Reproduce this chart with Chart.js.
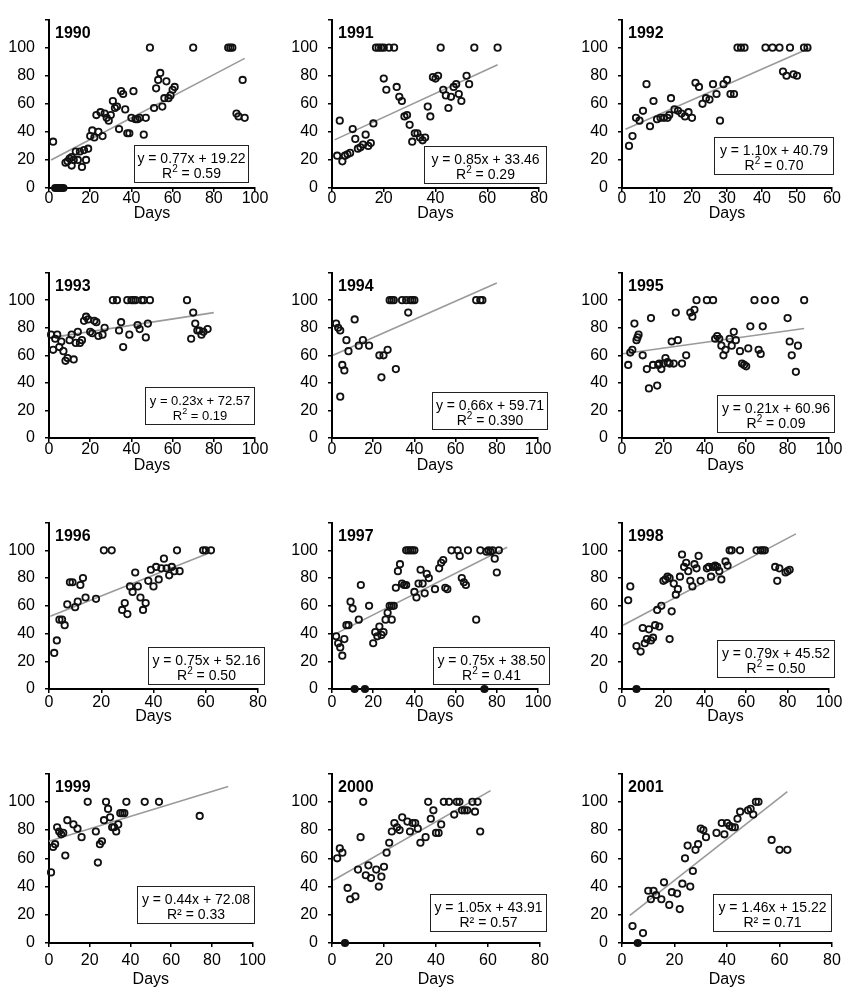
<!DOCTYPE html>
<html>
<head>
<meta charset="utf-8">
<script src="https://cdn.jsdelivr.net/npm/chart.js@4.4.1/dist/chart.umd.min.js"></script>
<style>
  html, body { margin: 0; padding: 0; background: #fff; overflow: hidden; }
  #wrap { position: relative; width: 846px; height: 991px; }
  #wrap canvas { position: absolute; }
</style>
</head>
<body>
<div id="wrap"></div>
<script>
// ---- values: [days, value] ----
const years = [1990, 1991, 1992, 1993, 1994, 1995, 1996, 1997, 1998, 1999, 2000, 2001];

const p1990 = [[2,33],[3,0],[4,0],[5,0],[6,0],[7,0],[8,18],[9,19],[10,21],[11,22],[11,16],[12,20],[13,26],[14,20],[15,26],[16,15],[17,27],[18,20],[19,28],[20,37],[21,41],[22,36],[23,52],[24,40],[25,54],[26,37],[27,53],[28,50],[29,48],[30,52],[31,62],[32,57],[33,58],[34,42],[35,69],[36,67],[37,56],[38,39],[39,39],[40,50],[41,69],[42,49],[43,49],[44,50],[46,38],[47,50],[49,100],[51,57],[52,71],[53,77],[54,82],[55,58],[56,64],[57,76],[58,64],[59,66],[60,70],[61,72],[70,100],[87,100],[88,100],[89,100],[91,53],[92,51],[94,77],[95,50]];
const p1991 = [[2,23],[3,48],[4,19],[5,23],[6,24],[7,25],[8,42],[9,35],[10,28],[11,29],[12,31],[13,38],[14,30],[15,32],[16,46],[17,100],[18,100],[19,100],[20,100],[20,78],[21,70],[22,100],[24,100],[25,72],[26,65],[27,62],[28,51],[29,52],[30,45],[31,33],[32,39],[33,39],[34,36],[35,34],[36,36],[37,58],[38,51],[39,79],[40,78],[41,80],[42,100],[43,70],[44,66],[45,57],[46,65],[47,72],[48,74],[49,67],[50,62],[52,80],[53,74],[55,100],[64,100]];
const p1992 = [[2,30],[3,37],[4,50],[5,48],[6,55],[7,74],[8,44],[9,62],[10,49],[11,50],[12,50],[13,50],[13.5,52],[14,64],[15,56],[16,55],[17,53],[18,51],[19,54],[20,50],[21,75],[22,72],[23,60],[24,64],[25,63],[26,74],[27,67],[28,48],[29,74],[30,77],[31,67],[32,67],[33,100],[34,100],[35,100],[41,100],[43,100],[45,100],[46,83],[47,80],[48,100],[49,81],[50,80],[52,100],[53,100]];
const p1993 = [[1,75],[2,64],[3,72],[4,75],[5,66],[6,70],[7,63],[8,56],[9,58],[10,71],[11,75],[12,57],[13,69],[14,77],[15,69],[16,71],[17,85],[18,88],[19,86],[20,77],[21,76],[22,85],[23,84],[24,74],[26,75],[27,80],[31,100],[33,100],[34,78],[35,84],[36,66],[38,100],[39,75],[40,100],[41,100],[42,100],[43,82],[44,79],[45,100],[46,100],[47,73],[48,83],[49,100],[67,100],[69,72],[70,91],[71,83],[72,78],[73,78],[74,75],[75,77],[77,79]];
const p1994 = [[2,83],[3,80],[4,78],[4,30],[5,53],[6,49],[7,71],[8,63],[11,86],[13,67],[15,71],[18,67],[23,60],[24,44],[25,60],[27,64],[28,100],[29,100],[30,100],[31,50],[34,100],[36,100],[37,91],[38,100],[39,100],[40,100],[70,100],[72,100],[73,100]];
const p1995 = [[3,53],[4,62],[5,64],[6,83],[7,71],[7.5,73],[8,75],[10,60],[12,50],[13,36],[14,87],[15,53],[17,38],[17.5,53],[18,54],[19,50],[20,54],[21,58],[22,55],[23,54],[24,70],[25,54],[26,91],[27,71],[29,54],[31,60],[33,91],[34,88],[35,93],[36,100],[41,100],[44,100],[45,72],[46,74],[47,72],[48,67],[49,60],[50,64],[52,72],[53,67],[54,77],[55,71],[57,63],[58,54],[59,53],[60,52],[61,65],[62,81],[64,100],[66,64],[67,61],[68,81],[69,100],[74,100],[80,87],[81,70],[82,60],[84,48],[85,67],[88,100]];
const p1996 = [[2,26],[3,35],[4,50],[5,50],[6,46],[7,61],[8,77],[9,77],[10,59],[11,63],[12,75],[13,80],[14,66],[18,65],[21,100],[24,100],[28,57],[29,62],[30,54],[31,74],[32,70],[33,84],[34,74],[35,66],[36,57],[37,62],[38,78],[39,86],[40,74],[41,88],[42,79],[43,87],[44,94],[45,87],[46,82],[47,88],[48,85],[49,100],[50,85],[59,100],[60,100],[62,100]];
const p1997 = [[2,38],[3,33],[4,30],[5,24],[6,36],[7,46],[8,46],[9,63],[10,58],[11,0],[13,50],[14,75],[16,0],[18,60],[20,33],[21,41],[22,38],[23,45],[24,39],[25,41],[26,50],[27,55],[28,60],[29,60],[29,50],[30,60],[31,73],[32,85],[33,90],[34,76],[35,75],[36,75],[36,100],[37,100],[38,100],[39,100],[40,100],[40,70],[41,66],[42,76],[43,86],[44,76],[45,69],[46,83],[47,80],[50,72],[52,87],[53,91],[54,93],[55,73],[56,72],[58,100],[61,100],[62,96],[63,80],[64,77],[65,75],[66,100],[70,50],[72,100],[74,0],[75,99],[76,100],[77,99],[78,100],[79,94],[80,84],[81,100]];
const p1998 = [[3,64],[4,74],[7,31],[7,0],[9,27],[10,44],[11,33],[12,36],[13,43],[14,35],[15,37],[16,46],[17,57],[18,45],[19,60],[20,78],[21,79],[22,81],[23,80],[23,36],[24,56],[25,76],[26,68],[27,72],[28,81],[29,97],[30,88],[31,91],[32,85],[33,78],[34,74],[35,90],[36,87],[37,96],[38,78],[41,87],[42,88],[43,81],[44,88],[45,89],[46,88],[47,85],[48,79],[50,92],[51,89],[52,100],[53,100],[57,100],[65,100],[67,100],[68,100],[69,100],[74,88],[75,78],[76,87],[79,84],[80,85],[81,86]];
const p1999 = [[1,50],[2,68],[3,70],[4,82],[5,79],[6,77],[7,78],[8,62],[9,87],[12,84],[14,81],[16,75],[19,100],[23,79],[24,57],[25,70],[26,72],[27,87],[28,100],[29,95],[30,89],[31,82],[32,82],[33,79],[34,84],[35,92],[36,92],[37,92],[38,100],[47,100],[54,100],[74,90]];
const p2000 = [[2,60],[3,67],[4,64],[5,0],[6,39],[7,31],[9,33],[10,52],[11,75],[12,100],[13,48],[14,55],[15,46],[17,52],[18,40],[19,47],[20,54],[21,64],[22,71],[23,79],[24,85],[25,82],[26,80],[27,89],[29,86],[30,79],[31,85],[32,85],[33,81],[34,71],[36,75],[37,100],[38,88],[39,94],[40,78],[41,78],[42,84],[43,100],[45,100],[47,91],[48,100],[49,100],[50,94],[51,94],[52,94],[54,100],[55,93],[56,100],[57,79]];
const p2001 = [[4,12],[6,0],[8,7],[10,37],[11,31],[12,37],[13,34],[15,31],[16,43],[18,27],[19,36],[21,35],[22,24],[23,42],[24,60],[25,69],[26,40],[27,51],[28,66],[29,70],[30,81],[31,80],[32,75],[36,78],[38,85],[39,77],[40,85],[41,83],[42,82],[43,82],[44,88],[45,93],[48,94],[49,95],[50,91],[51,100],[52,100],[57,73],[60,66],[63,66]];
const points = [p1990, p1991, p1992, p1993, p1994, p1995, p1996, p1997, p1998, p1999, p2000, p2001];

// fitted lines as printed in each box
const slopes     = [0.77, 0.85, 1.10, 0.23, 0.66, 0.21, 0.75, 0.75, 0.79, 0.44, 1.05, 1.46];
const intercepts = [19.22, 33.46, 40.79, 72.57, 59.71, 60.96, 52.16, 38.50, 45.52, 72.08, 43.91, 15.22];
const r2Text     = ['0.59', '0.29', '0.70', '0.19', '0.390', '0.09', '0.50', '0.41', '0.50', '0.33', '0.57', '0.71'];
const trendFrom  = [1, 1, 1, 1, 0.5, 0.5, 0.5, 0.5, 0.5, 0, 0.5, 3];
const trendTo    = [95, 64, 54, 80, 80, 88, 62, 85, 84, 88, 61, 63];
const xMax       = [100, 80, 60, 100, 100, 100, 80, 100, 100, 100, 80, 80];
const xStep      = [20, 20, 10, 20, 20, 20, 20, 20, 20, 20, 20, 20];
const yTicksMax  = 120;

// ---- layout (page pixels) ----
const FONT = '"Liberation Sans", Arial, Helvetica, sans-serif';
const axisLeft = [49, 332, 622];
const plotRight = [255, 539, 832, 255, 538, 829, 258, 538, 829, 255, 540, 832];
const plotTop = [10, 263, 513, 764];
const plotBottom = [188, 438, 689, 943];
const xAxisH = [35, 37, 37, 46];
const xTickPad = [-3, -2, 0, 4];
const boxW = [115, 123, 120, 110, 116, 118, 117, 117, 118, 118, 117, 119];
const boxFont = [14, 14, 14, 13, 14, 14, 14, 14, 14, 14, 14, 14];
const boxShift = [[-6,-5],[8,-4],[2,-13],[0,-13],[10,-8],[6,-5],[7,-4],[12,-4],[6,-11],[2,-19],[7,-11],[0,-11]];

// year label + equation box
const notes = {
  id: 'notes',
  afterDatasetsDraw(chart, args, o) {
    const { ctx, chartArea: a } = chart;
    ctx.save();
    ctx.fillStyle = '#000';
    ctx.textAlign = 'left';
    ctx.textBaseline = 'alphabetic';
    ctx.font = 'bold 16px ' + FONT;
    ctx.fillText(String(o.year), a.left + 6, a.top + 18);

    const w = o.w, h = 38, fs = o.fs;
    const bx = Math.round(a.right + o.dx - w), by = Math.round(a.bottom + o.dy - h);
    ctx.fillStyle = '#fff';
    ctx.fillRect(bx, by, w, h);
    ctx.strokeStyle = '#222';
    ctx.lineWidth = 1;
    ctx.strokeRect(bx + 0.5, by + 0.5, w - 1, h - 1);

    const cx = bx + w / 2;
    const main = fs + 'px ' + FONT, small = Math.round(fs * 0.72) + 'px ' + FONT;
    ctx.fillStyle = '#000';
    ctx.textAlign = 'center';
    ctx.font = main;
    ctx.fillText(o.eq, cx, by + 18);
    if (o.sup) {
      ctx.textAlign = 'left';
      const rest = ' = ' + o.r2;
      const wR = ctx.measureText('R').width, wRest = ctx.measureText(rest).width;
      ctx.font = small;
      const w2 = ctx.measureText('2').width;
      const x = cx - (wR + w2 + wRest) / 2;
      ctx.font = main;
      ctx.fillText('R', x, by + 33);
      ctx.font = small;
      ctx.fillText('2', x + wR, by + 27);
      ctx.font = main;
      ctx.fillText(rest, x + wR + w2, by + 33);
    } else {
      ctx.fillText('R\u00B2 = ' + o.r2, cx, by + 33);
    }
    ctx.restore();
  }
};

const wrap = document.getElementById('wrap');

years.forEach((year, i) => {
  const row = Math.floor(i / 3), col = i % 3;
  const left = axisLeft[col] - 49;
  const top = plotTop[row] - 10;
  const width = plotRight[i] + 15 - left;
  const height = 10 + (plotBottom[row] - plotTop[row]) + xAxisH[row];

  const cv = document.createElement('canvas');
  cv.width = width; cv.height = height;
  cv.style.left = left + 'px'; cv.style.top = top + 'px';
  cv.style.width = width + 'px'; cv.style.height = height + 'px';
  wrap.appendChild(cv);

  const m = slopes[i], b = intercepts[i];
  const trend = [trendFrom[i], trendTo[i]].map(x => ({ x, y: m * x + b }));

  new Chart(cv, {
    type: 'scatter',
    data: {
      datasets: [
        {
          data: points[i].map(([x, y]) => ({ x, y })),
          pointRadius: 3.2, pointBorderWidth: 1.8,
          pointBorderColor: '#111',
          // points sitting on the axis print as solid dots
          pointBackgroundColor: c => (c.raw && c.raw.y === 0 ? '#111' : 'rgba(0,0,0,0)'),
          showLine: false, clip: false, order: 0,
        },
        {
          data: trend, showLine: true, pointRadius: 0,
          borderColor: '#9a9a9a', borderWidth: 1.6, clip: false, order: 1,
        },
      ],
    },
    options: {
      responsive: false, animation: false, devicePixelRatio: 1,
      layout: { padding: { top: 10, right: 15, left: 0, bottom: 0 } },
      plugins: {
        legend: { display: false }, tooltip: { enabled: false },
        notes: {
          year, w: boxW[i], fs: boxFont[i], dx: boxShift[i][0], dy: boxShift[i][1],
          eq: `y = ${m.toFixed(2)}x + ${b.toFixed(2)}`, r2: r2Text[i], sup: year < 1999,
        },
      },
      scales: {
        x: {
          type: 'linear', min: 0, max: xMax[i],
          ticks: { stepSize: xStep[i], color: '#000', font: { family: FONT, size: 16 }, padding: xTickPad[row] },
          grid: { drawOnChartArea: false, drawTicks: true, tickLength: 4, color: '#000', lineWidth: 1.5 },
          border: { display: true, color: '#000', width: 2 },
          title: { display: true, text: 'Days', color: '#000', font: { family: FONT, size: 16 }, padding: 0 },
          afterFit(s) { s.height = xAxisH[row]; },
        },
        y: {
          min: 0, max: yTicksMax,
          ticks: { stepSize: 20, color: '#000', font: { family: FONT, size: 16 }, padding: 10,
                   callback: v => (v > 100 ? '' : v) },
          grid: { drawOnChartArea: false, drawTicks: true, tickLength: 4, color: '#000', lineWidth: 1.5 },
          border: { display: true, color: '#000', width: 2 },
          afterFit(s) { s.width = 49; },
        },
      },
    },
    plugins: [notes],
  });
});
</script>
</body>
</html>
